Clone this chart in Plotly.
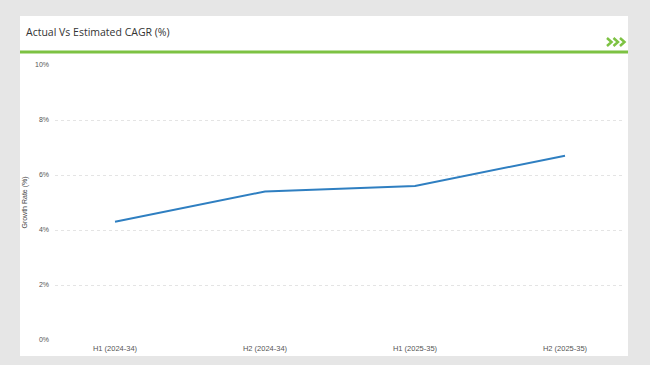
import plotly.graph_objects as go

categories = ["H1 (2024-34)", "H2 (2024-34)", "H1 (2025-35)", "H2 (2025-35)"]
growth_rate = [4.3, 5.4, 5.6, 6.7]
y_ticks = [0, 2, 4, 6, 8, 10]
y_tick_labels = ["0%", "2%", "4%", "6%", "8%", "10%"]

W, H = 650, 365
L, R, T, B = 55, 25, 65, 25
pw, ph = W - L - R, H - T - B

def px(x):
    return (x - L) / pw

def py(y):
    return (H - B - y) / ph

fig = go.Figure()
fig.add_trace(go.Scatter(
    x=categories, y=growth_rate, mode="lines",
    line=dict(color="#2f7fc1", width=2), hoverinfo="skip", showlegend=False,
))

shapes = [
    # white card
    dict(type="rect", xref="paper", yref="paper", x0=px(20), x1=px(628), y0=py(356), y1=py(16),
         fillcolor="white", line=dict(width=0), layer="below"),
    # green separator
    dict(type="line", xref="paper", yref="paper", x0=px(20), x1=px(628), y0=py(52), y1=py(52),
         line=dict(color="#7dc243", width=3)),
]
# chevrons
for i in range(3):
    x0 = 607 + i * 6.5
    shapes.append(dict(
        type="path", xref="paper", yref="paper",
        path=f"M {px(x0)} {py(38)} L {px(x0 + 4.5)} {py(42)} L {px(x0)} {py(46)}",
        line=dict(color="#7dc243", width=2.5),
    ))

fig.update_layout(
    width=W, height=H,
    margin=dict(l=L, r=R, t=T, b=B, pad=0),
    paper_bgcolor="#e6e6e6",
    plot_bgcolor="white",
    font=dict(family="Liberation Sans, Arial, sans-serif", size=7, color="#555"),
    shapes=shapes,
    annotations=[dict(
        text="Actual Vs Estimated CAGR (%)", xref="paper", yref="paper",
        x=px(24), y=py(32), xanchor="left", yanchor="middle", showarrow=False,
        font=dict(family="Open Sans, sans-serif", size=10.5, color="#333"),
    )],
    xaxis=dict(
        type="category", range=[-0.4, 3.4], showgrid=False, showline=False,
        zeroline=False, ticks="", ticklabelstandoff=2,
        tickfont=dict(size=7.5, color="#555"),
    ),
    yaxis=dict(
        range=[0, 10], tickvals=y_ticks, ticktext=y_tick_labels,
        showgrid=True, gridcolor="#e4e4e4", griddash="dot", gridwidth=1,
        zeroline=False, showline=False, ticks="", ticklabelstandoff=5,
        tickfont=dict(size=7, color="#555"),
        title=dict(text="Growth Rate (%)", font=dict(size=7, color="#444"), standoff=6),
    ),
)

fig.write_html(
    "out.html",
    config={"displayModeBar": False},
    post_script="document.body.style.margin='0';document.body.style.background='#e6e6e6';document.body.style.overflow='hidden';",
)
